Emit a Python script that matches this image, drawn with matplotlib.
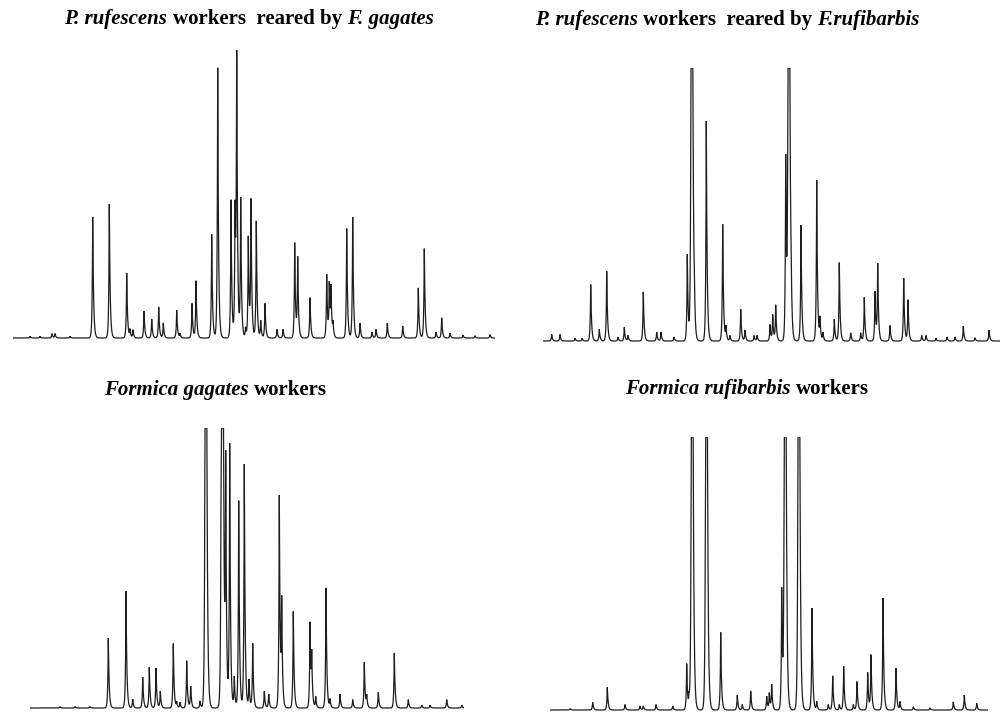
import numpy as np
import matplotlib
matplotlib.use("Agg")
import matplotlib.pyplot as plt

W, H = 1005, 713

# ---------------- data (peak positions = retention units,
# heights = % of full scale; >100 means detector saturation / clipped) ----------
p1_pos = [30, 40, 52, 55, 70, 92.7, 109.3, 126.7, 130, 133, 144, 151.7, 158.7, 163.3, 176.7, 180,
          192, 196, 211.7, 217.7, 231, 235, 236.7, 240.7, 245.5, 248.3, 251, 256.3, 260.7, 265,
          277, 283, 294.7, 297.7, 310, 326.7, 329.3, 331, 333, 346.7, 352.7, 360, 372, 376,
          387.3, 402.7, 418.3, 424.3, 436, 441.7, 450, 463, 475, 490]
p1_hgt = [0.6, 0.6, 1.5, 1.5, 0.6, 42, 46.5, 22.6, 2.8, 2.8, 9.4, 6.6, 10.8, 5.2, 9.7, 1.5,
          12, 19.8, 36, 93.8, 48, 43, 100, 48, 3.5, 35, 47, 40.6, 6, 12,
          3, 3, 33, 27.4, 14, 22, 18, 16, 4.5, 38, 42, 5.2, 2, 3,
          5.2, 4.2, 17.4, 31, 2, 7, 1.7, 1, 0.8, 1.2]

p2_pos = [551.7, 560, 575, 582, 590.7, 599.3, 606.7, 618, 624.3, 628, 643.3, 656.7, 661, 674,
          687.3, 691.7, 694.3, 706.3, 722.7, 726, 730, 740.7, 745, 754, 757, 770, 772.7, 775.7,
          785.7, 788.7, 791, 801, 816.7, 820, 823, 834.3, 839.3, 850.7, 860.7, 864.3, 875,
          877.7, 890, 903.7, 908, 921.7, 926, 936, 947, 955, 963.3, 975, 989]
p2_hgt = [2.4, 2.4, 1, 1, 20.7, 4.3, 25.6, 1.5, 5, 2, 18, 3.3, 3.3, 1.5,
          31.7, 400, 9, 80.6, 42.7, 5, 2, 11.6, 4, 2, 2, 6, 9.4, 13,
          66.8, 400, 14, 42.5, 58.9, 8, 3, 8, 28.7, 3, 3, 16, 18,
          27.8, 5.7, 23, 15, 2, 2, 1, 1.5, 1.5, 5.5, 1.2, 4]

p3_pos = [60, 75, 90, 108.3, 126, 132.7, 142.7, 149.3, 156, 160.3, 173.3, 176.7, 180, 186.7,
          190.7, 200, 205.7, 221, 222.3, 225.7, 229.7, 234.3, 238.7, 244.3, 249, 252.7, 264.3,
          268.7, 279.3, 281.7, 293.3, 310, 311.7, 315.7, 326, 330, 340, 352.7, 364.3, 366.7,
          378.3, 394.3, 408.3, 421.7, 430, 446.7, 461.7]
p3_hgt = [0.5, 0.5, 0.5, 25, 41.7, 3.2, 11, 14.6, 14.3, 6, 23, 2, 2, 16.9,
          7.7, 2.5, 400, 40, 400, 84.5, 93.7, 11, 74, 87, 10, 23, 6,
          5, 75.6, 35.7, 34.5, 30, 17, 4, 42.9, 3, 5, 3, 16.3, 4,
          5.6, 19.6, 3, 1, 1, 3, 1]

p4_pos = [570, 592.7, 607.3, 625, 640, 643.3, 656, 672.7, 686.7, 689, 692, 694, 706.3, 720.7,
          737.3, 742.3, 750.7, 766.7, 769.3, 771.7, 781.7, 785, 786.7, 798.7, 812, 816.7, 828.3,
          832.7, 839.3, 843.7, 853.3, 857, 867.7, 871, 883, 896, 900, 913.3, 930, 953.3, 964.3,
          976.7]
p4_hgt = [0.5, 2.8, 8.3, 2, 1.5, 1.5, 2, 1.5, 16.9, 4, 400, 2, 400, 28.4,
          5.5, 2, 7, 5, 6, 9, 44, 400, 4, 400, 37.3, 3, 2,
          12.5, 2, 16, 2, 10.4, 13.7, 20, 41, 15.3, 3, 1.2, 0.8, 3, 5.5,
          2.5]

titles = [
    [("P. rufescens", "it"), (" workers  reared by ", "bf"), ("F. gagates", "it")],
    [("P. rufescens", "it"), (" workers  reared by ", "bf"), ("F.rufibarbis", "it")],
    [("Formica gagates", "it"), (" workers", "bf")],
    [("Formica rufibarbis", "it"), (" workers", "bf")],
]

# ---------------- layout (pixel geometry of each panel) ----------------
panels = [
    dict(pos=p1_pos, hgt=p1_hgt, x0=13, x1=495, base=338, top=50, title=titles[0], tc=(249, 24)),
    dict(pos=p2_pos, hgt=p2_hgt, x0=543, x1=1000, base=341, top=68, title=titles[1], tc=(727, 25.5)),
    dict(pos=p3_pos, hgt=p3_hgt, x0=30, x1=464, base=708, top=428, title=titles[2], tc=(215, 395)),
    dict(pos=p4_pos, hgt=p4_hgt, x0=550, x1=988, base=710, top=437, title=titles[3], tc=(747, 394)),
]

fig = plt.figure(figsize=(W / 100, H / 100), dpi=100)
fig.patch.set_facecolor("white")

YLO = -5.0
for p in panels:
    ppu = (p["base"] - p["top"]) / 100.0
    bottom_px = p["base"] - YLO * ppu
    ax = fig.add_axes([p["x0"] / W, 1 - bottom_px / H, (p["x1"] - p["x0"]) / W,
                       (bottom_px - p["top"]) / H])
    x = np.arange(p["x0"], p["x1"], 0.05)
    y = np.zeros_like(x)
    for c, h in zip(p["pos"], p["hgt"]):
        w = np.where(x < c, 0.55, 0.85)
        y += h * np.exp(-np.abs(x - c) / w)
    y = np.minimum(y, 100.0)
    ax.plot(x, y, color="#1e1e1e", lw=0.9, solid_joinstyle="miter")
    ax.set_xlim(p["x0"], p["x1"])
    ax.set_ylim(YLO, 100)
    ax.axis("off")

# ---------------- mixed-style titles ----------------
fig.canvas.draw()
renderer = fig.canvas.get_renderer()
FS = 15
styles = {"it": dict(style="italic", weight="bold"), "bf": dict(style="normal", weight="bold")}


def measure(s, st):
    t = fig.text(0, 0, s, fontsize=FS, family="Liberation Serif", **styles[st])
    w = t.get_window_extent(renderer).width
    t.remove()
    return w


for p in panels:
    parts = p["title"]
    pieces = []
    for s, st in parts:
        lead = len(s) - len(s.lstrip(" "))
        trail = len(s) - len(s.rstrip(" "))
        core = s.strip(" ")
        sp = measure("a a", st) - measure("aa", st)
        pieces.append((core, st, lead * sp, trail * sp, measure(core, st)))
    total = sum(a + b + c for _, _, a, b, c in pieces)
    cx, cy = p["tc"]
    xcur = cx - total / 2
    for core, st, lsp, tsp, w in pieces:
        xcur += lsp
        fig.text(xcur / W, 1 - cy / H, core, fontsize=FS, family="Liberation Serif",
                 va="baseline", ha="left", color="black", **styles[st])
        xcur += w + tsp

fig.savefig("out.png", dpi=100, facecolor="white")
